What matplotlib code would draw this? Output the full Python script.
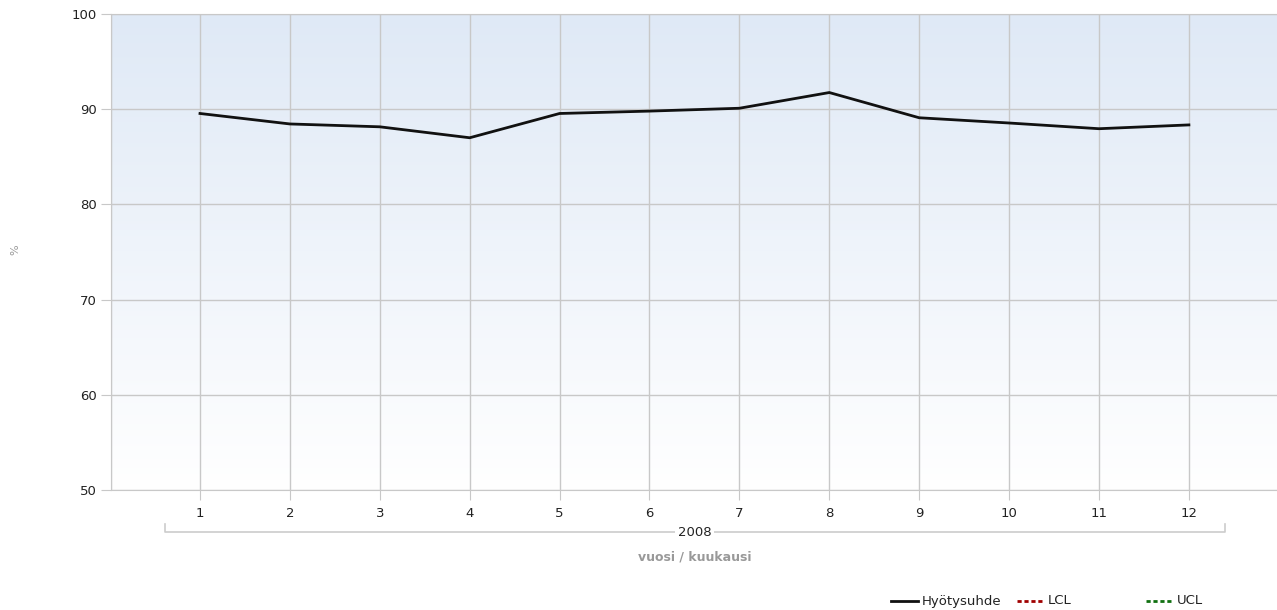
import numpy as np
import matplotlib
matplotlib.use("Agg")
import matplotlib.pyplot as plt
from matplotlib.lines import Line2D
from matplotlib import transforms

plt.rcParams["font.family"] = ["DejaVu Sans"]

# kuukausittainen hyötysuhde vuonna 2008
months = [1, 2, 3, 4, 5, 6, 7, 8, 9, 10, 11, 12]
hyotysuhde = [89.55, 88.45, 88.15, 87.0, 89.55, 89.8, 90.1, 91.75, 89.1, 88.55, 87.95, 88.35]
year_label = "2008"
y_ticks = [50, 60, 70, 80, 90, 100]

W, H = 1277, 610
fig = plt.figure(figsize=(W / 100, H / 100), dpi=100)
ax = fig.add_axes([111 / W, (H - 490) / H, 1166 / W, 476 / H])

# taustan liukuväri: vaaleansininen ylhäällä, valkoinen alhaalla
grad = np.linspace(0, 1, 256).reshape(-1, 1, 1)
top = np.array([0.875, 0.914, 0.965])
bot = np.array([1.0, 1.0, 1.0])
img = bot + (top - bot) * grad
ax.imshow(img, extent=[0, 1, 0, 1], transform=ax.transAxes,
          aspect="auto", origin="lower", zorder=0)

ax.plot(months, hyotysuhde, color="#111111", linewidth=2, zorder=3,
        solid_joinstyle="miter")

ax.set_xlim(0.01, 12.98)
ax.set_ylim(50, 100)
ax.set_xticks(months)
ax.set_yticks(y_ticks)
ax.grid(True, color="#c8c8c8", linewidth=1, zorder=1)
ax.axvline(0.01, color="#c8c8c8", linewidth=1, zorder=1)
ax.tick_params(axis="both", length=7, color="#c8c8c8", labelsize=9.5,
               labelcolor="#222222")
ax.tick_params(axis="x", pad=5)
ax.tick_params(axis="y", pad=3)
for side in ["top", "left", "bottom"]:
    ax.spines[side].set_color("#c8c8c8")
ax.spines["right"].set_visible(False)

fig.text(15 / W, 1 - 250 / H, "%", rotation=90, color="#999999",
         fontsize=8, ha="center", va="center")

# vuosihakasulku x-akselin alla
tr = transforms.blended_transform_factory(ax.transData, fig.transFigure)
y_br = 1 - 532 / H
y_br_top = 1 - 524 / H
x0, x1 = 0.61, 12.4
ax.add_line(Line2D([x0, x0, x1, x1], [y_br_top, y_br, y_br, y_br_top],
                   transform=tr, color="#cccccc", linewidth=1.2, clip_on=False))
ax.text((x0 + x1) / 2, y_br, year_label, transform=tr, ha="center", va="center",
        fontsize=9.5, color="#222222",
        bbox=dict(facecolor="white", edgecolor="none", pad=2))
ax.text((x0 + x1) / 2, 1 - 557 / H, "vuosi / kuukausi", transform=tr,
        ha="center", va="center", fontsize=9, fontweight="bold", color="#999999")

# selite
leg_y = 1 - 601 / H
items = [
    (891, "Hyötysuhde", "#111111", "-"),
    (1017, "LCL", "#a00000", (0, (1.5, 1))),
    (1146, "UCL", "#107010", (0, (1.5, 1))),
]
for x, label, color, ls in items:
    fig.add_artist(Line2D([x / W, (x + 27) / W], [leg_y, leg_y],
                          color=color, linewidth=2, linestyle=ls))
    fig.text((x + 31) / W, leg_y, label, ha="left", va="center",
             fontsize=9.5, color="#222222")

fig.savefig("out.png", dpi=100)
